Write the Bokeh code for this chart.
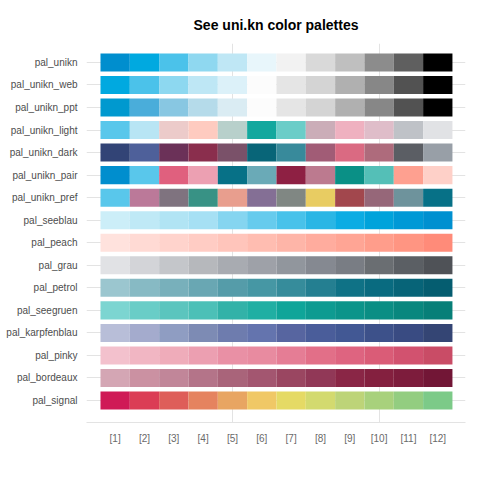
from bokeh.plotting import figure
from bokeh.models import ColumnDataSource, FixedTicker, Range1d
from bokeh.embed import file_html
from bokeh.resources import INLINE

palette_names = ["pal_unikn", "pal_unikn_web", "pal_unikn_ppt", "pal_unikn_light",
                 "pal_unikn_dark", "pal_unikn_pair", "pal_unikn_pref", "pal_seeblau",
                 "pal_peach", "pal_grau", "pal_petrol", "pal_seegruen",
                 "pal_karpfenblau", "pal_pinky", "pal_bordeaux", "pal_signal"]

pal_unikn = ["#008ECE", "#00A9E0", "#4BC2EA", "#8FD8F0", "#BFE7F5", "#E8F6FB",
             "#F2F2F2", "#D9D9D9", "#BFBFBF", "#8C8C8C", "#5F5F5F", "#000000"]
pal_unikn_web = ["#00A9E0", "#4BC2EA", "#8DD8F0", "#BEE7F5", "#DCF1F9", "#FCFCFC",
                 "#E5E5E5", "#D4D4D4", "#B0B0B0", "#878787", "#525252", "#000000"]
pal_unikn_ppt = ["#0099CF", "#4AADDA", "#88C7E2", "#B5DBEA", "#DAECF3", "#FCFCFC",
                 "#E5E5E5", "#D4D4D4", "#B0B0B0", "#878787", "#525252", "#000000"]
pal_unikn_light = ["#59C7EB", "#B8E5F4", "#ECCBCA", "#FECBC0", "#B8D0CB", "#13A89E",
                   "#6BCDC8", "#CBADB8", "#EFB1C0", "#DFBDC9", "#BFC2C7", "#E1E2E5"]
pal_unikn_dark = ["#324476", "#4E609A", "#6B3158", "#8A2E4D", "#7A5169", "#086578",
                  "#388A9B", "#A15C76", "#DA6A82", "#AE6B7C", "#5B5E64", "#989FA7"]
pal_unikn_pair = ["#008ECE", "#59C7EB", "#E0607E", "#ECA0B2", "#077187", "#6AAAB7",
                  "#8E2043", "#BC7A8F", "#0A9086", "#54BFB7", "#FEA090", "#FED0C8"]
pal_unikn_pref = ["#59C7EB", "#BB7999", "#7F737F", "#389285", "#E89E8E", "#846F95",
                  "#808783", "#E8CC62", "#A2474D", "#966779", "#6E939C", "#077187"]
pal_seeblau = ["#CCEEF8", "#BFE9F6", "#B1E4F4", "#A6E0F4", "#85D5F0", "#66CBED",
               "#48C2EA", "#2AB6E5", "#0CACE3", "#00A3DB", "#0099D6", "#0090D0"]
pal_peach = ["#FFE2DD", "#FFDAD4", "#FFD3CC", "#FFCCC4", "#FFC5BB", "#FFBDB1",
             "#FEB5A8", "#FFAC9E", "#FFA595", "#FF9D8B", "#FF9582", "#FF8B79"]
pal_grau = ["#E1E2E5", "#D3D4D8", "#C4C6CA", "#B6B8BC", "#A8ABB1", "#9EA1A8",
            "#91969D", "#858991", "#797D84", "#6A6E72", "#5B5F64", "#4F5257"]
pal_petrol = ["#9BC6CF", "#87BAC4", "#78B0BB", "#69A7B3", "#559CA9", "#4697A4",
              "#368C9B", "#247F91", "#0F7286", "#096B80", "#076478", "#055D70"]
pal_seegruen = ["#7CD5D1", "#69CDC7", "#5BC5BE", "#4CC0B7", "#32B2A8", "#20AFA3",
                "#0FA599", "#0E9B91", "#0B948A", "#0A8E84", "#08877E", "#077F78"]
pal_karpfenblau = ["#B8BED8", "#A4ABCD", "#8F9DC2", "#7D8BB4", "#6E7CAE", "#6474AE",
                   "#5765A0", "#4A5D9A", "#425894", "#3D518A", "#394B82", "#344574"]
pal_pinky = ["#F3C1CD", "#F1B6C3", "#EFACBA", "#EC9FB1", "#E990A5", "#E88BA0",
             "#E57D95", "#E26F88", "#DE6480", "#DA5C77", "#D2526F", "#C94C66"]
pal_bordeaux = ["#D4A6B4", "#CB91A2", "#C18699", "#B47489", "#A9647A", "#A35670",
                "#9A4661", "#913857", "#8A2646", "#84203F", "#7D1C3C", "#721636"]
pal_signal = ["#CF1A56", "#DB3D55", "#DE5E59", "#E5835F", "#E8A562", "#F0C866",
              "#E5DA65", "#D3DA6F", "#BDD478", "#A8D17C", "#93CD80", "#7CCA88"]

palettes = [pal_unikn, pal_unikn_web, pal_unikn_ppt, pal_unikn_light, pal_unikn_dark,
            pal_unikn_pair, pal_unikn_pref, pal_seeblau, pal_peach, pal_grau,
            pal_petrol, pal_seegruen, pal_karpfenblau, pal_pinky, pal_bordeaux, pal_signal]

x_labels = ["[%d]" % i for i in range(1, 13)]

n = len(palette_names)
xs, ys, cols = [], [], []
for i, pal in enumerate(palettes):
    yv = n - i
    for j, c in enumerate(pal):
        xs.append(j + 1)
        ys.append(yv)
        cols.append(c)
src = ColumnDataSource(dict(x=xs, y=ys, color=cols))

p = figure(width=480, height=480, output_backend="svg", toolbar_location=None,
           x_range=Range1d(0.023, 12.945), y_range=Range1d(0.025, 16.84),
           title="See uni.kn color palettes",
           min_border_left=86, min_border_right=15, min_border_top=43, min_border_bottom=58)
p.outline_line_color = None
p.background_fill_color = "white"
p.border_fill_color = "white"

p.rect(x="x", y="y", width=1, height=0.8, fill_color="color", line_color=None, source=src)

p.title.text_font = "Liberation Sans"
p.title.text_font_size = "14px"
p.title.text_font_style = "bold"
p.title.text_color = "#000000"
p.title.align = "center"
p.title.standoff = 22

p.xaxis.ticker = FixedTicker(ticks=list(range(1, 13)))
p.xaxis.major_label_overrides = {i + 1: lab for i, lab in enumerate(x_labels)}
p.yaxis.ticker = FixedTicker(ticks=list(range(1, n + 1)))
p.yaxis.major_label_overrides = {n - i: name for i, name in enumerate(palette_names)}

for ax in (p.xaxis[0], p.yaxis[0]):
    ax.major_tick_line_color = None
    ax.minor_tick_line_color = None
    ax.major_label_text_font = "Liberation Sans"
    ax.major_label_text_font_size = "10px"
p.xaxis.major_label_text_color = "#6a6a6a"
p.yaxis.major_label_text_color = "#4d4d4d"
p.xaxis.axis_line_color = "#e3e3e3"
p.yaxis.axis_line_color = None
p.xaxis.major_label_standoff = 4
p.yaxis.major_label_standoff = 3

p.xgrid.ticker = FixedTicker(ticks=[5, 10])
p.ygrid.ticker = FixedTicker(ticks=list(range(1, n + 1)))
p.xgrid.grid_line_color = "#e3e3e3"
p.ygrid.grid_line_color = "#e3e3e3"

open("out.html", "w").write(file_html(p, INLINE))
